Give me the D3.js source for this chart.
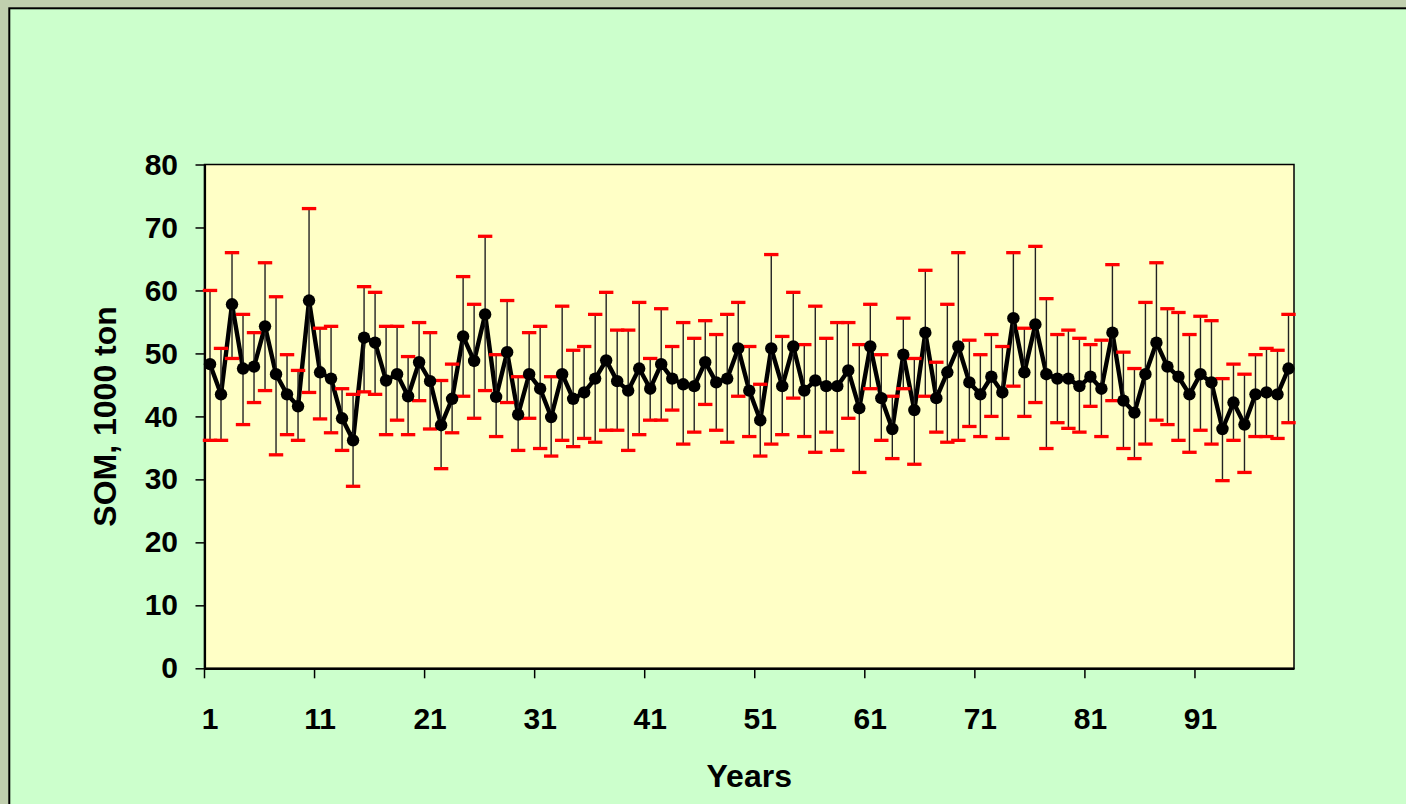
<!DOCTYPE html>
<html>
<head>
<meta charset="utf-8">
<script src="https://d3js.org/d3.v7.min.js"></script>
<style>
  html, body { margin: 0; padding: 0; background: #c0cfae; }
  svg { display: block; }
  text { font-family: "Liberation Sans", Arial, sans-serif; font-weight: bold; }
</style>
</head>
<body>
<div id="chart"></div>
<script>
// SOM per year: mean and error bar limits
var years = d3.range(1, 100);
var tickYears = [1, 11, 21, 31, 41, 51, 61, 71, 81, 91];
var yTicks = [0, 10, 20, 30, 40, 50, 60, 70, 80];

var som = [
  48.3, 43.5, 57.8, 47.6, 47.9, 54.3, 46.7, 43.5, 41.6, 58.4,
  47.0, 46.0, 39.7, 36.2, 52.5, 51.7, 45.7, 46.7, 43.2, 48.6,
  45.6, 38.6, 42.8, 52.7, 48.8, 56.2, 43.1, 50.2, 40.3, 46.7,
  44.4, 39.9, 46.7, 42.8, 43.8, 46.0, 48.9, 45.6, 44.1, 47.6,
  44.4, 48.3, 46.0, 45.1, 44.8, 48.6, 45.4, 46.0, 50.8, 44.1,
  39.4, 50.8, 44.8, 51.1, 44.1, 45.7, 44.8, 44.8, 47.3, 41.3,
  51.1, 42.9, 38.0, 49.8, 41.0, 53.3, 42.9, 47.0, 51.1, 45.4,
  43.5, 46.3, 43.8, 55.6, 47.0, 54.6, 46.7, 46.0, 46.0, 44.8,
  46.3, 44.4, 53.3, 42.5, 40.6, 46.7, 51.7, 47.9, 46.3, 43.5,
  46.7, 45.4, 38.0, 42.2, 38.7, 43.5, 43.8, 43.5, 47.6
];

var upper = [
  60.0, 50.8, 66.0, 56.2, 53.3, 64.4, 59.0, 49.8, 47.3, 73.0,
  54.0, 54.3, 44.4, 43.5, 60.6, 59.7, 54.3, 54.3, 49.5, 54.9,
  53.3, 45.7, 48.3, 62.2, 57.8, 68.6, 49.8, 58.4, 46.3, 53.3,
  54.3, 46.3, 57.5, 50.5, 51.1, 56.2, 59.7, 53.7, 53.7, 58.1,
  49.2, 57.1, 51.1, 54.9, 52.4, 55.2, 53.0, 56.2, 58.1, 51.1,
  45.1, 65.7, 52.7, 59.7, 51.4, 57.5, 52.4, 54.9, 54.9, 51.4,
  57.8, 49.8, 43.2, 55.6, 49.2, 63.2, 48.6, 57.8, 66.0, 52.1,
  49.8, 53.0, 51.1, 66.0, 54.0, 67.0, 58.7, 53.0, 53.7, 52.4,
  51.4, 52.1, 64.1, 50.2, 47.6, 58.1, 64.4, 57.1, 56.5, 53.0,
  55.9, 55.2, 46.0, 48.3, 46.7, 49.8, 50.8, 50.5, 56.2
];

var lower = [
  36.2, 36.2, 49.2, 38.7, 42.2, 44.1, 33.9, 37.1, 36.2, 43.8,
  39.6, 37.4, 34.6, 28.9, 43.9, 43.5, 37.1, 39.4, 37.1, 42.5,
  38.0, 31.7, 37.4, 43.2, 39.7, 44.1, 36.8, 42.2, 34.6, 39.7,
  34.9, 33.7, 36.2, 35.2, 36.5, 35.9, 37.8, 37.8, 34.6, 37.1,
  39.4, 39.4, 41.0, 35.6, 37.5, 41.9, 37.8, 35.9, 43.2, 36.8,
  33.7, 35.6, 37.1, 42.9, 36.8, 34.3, 37.5, 34.6, 39.7, 31.1,
  44.4, 36.2, 33.3, 44.4, 32.4, 43.2, 37.5, 35.9, 36.2, 38.4,
  36.8, 40.0, 36.5, 44.8, 40.0, 42.2, 34.9, 39.0, 38.1, 37.5,
  41.6, 36.8, 42.5, 34.9, 33.3, 35.6, 39.4, 38.7, 36.2, 34.3,
  37.8, 35.6, 29.8, 36.2, 31.1, 36.8, 36.8, 36.5, 39.0
];

var W = 1406, H = 804;
var plot = {left: 204.5, top: 164.5, right: 1294, bottom: 668.3};

var svg = d3.select("#chart").append("svg")
    .attr("width", W).attr("height", H);

// green panel with black frame
svg.append("rect")
    .attr("x", 9.3).attr("y", 8.3)
    .attr("width", W + 20).attr("height", H + 20)
    .attr("fill", "#ccffcc")
    .attr("stroke", "#000").attr("stroke-width", 2);

// plot area
svg.append("rect")
    .attr("x", plot.left).attr("y", plot.top)
    .attr("width", plot.right - plot.left)
    .attr("height", plot.bottom - plot.top)
    .attr("fill", "#ffffc6")
    .attr("stroke", "#000").attr("stroke-width", 1.5);

var x = d3.scaleBand().domain(years).range([plot.left, plot.right]).padding(0);
var y = d3.scaleLinear().domain([0, 80]).range([plot.bottom, plot.top]);
var bw = x.bandwidth();
function cx(d) { return x(d) + bw / 2; }

// Y axis
var yAxis = svg.append("g")
    .attr("transform", "translate(" + plot.left + ",0)")
    .call(d3.axisLeft(y).tickValues(yTicks).tickSize(9).tickSizeOuter(0).tickPadding(17.5));
yAxis.select(".domain").attr("stroke-width", 2.2);
yAxis.selectAll(".tick line").attr("stroke-width", 1.5);
yAxis.selectAll("text").attr("font-size", 30).attr("fill", "#000")
    .style("font-family", "'Liberation Sans', Arial, sans-serif");

// X axis: ticks on category boundaries, labels in centre
var xAxis = svg.append("g")
    .attr("transform", "translate(0," + plot.bottom + ")")
    .call(d3.axisBottom(x).tickValues(tickYears).tickSize(10).tickSizeOuter(0).tickPadding(29));
xAxis.select(".domain").attr("stroke-width", 2.2);
xAxis.selectAll(".tick line")
    .attr("x1", -bw / 2).attr("x2", -bw / 2).attr("stroke-width", 1.5);
xAxis.selectAll("text").attr("font-size", 30).attr("fill", "#000")
    .style("font-family", "'Liberation Sans', Arial, sans-serif");

// axis titles
svg.append("text")
    .attr("x", (plot.left + plot.right) / 2).attr("y", 787)
    .attr("text-anchor", "middle").attr("font-size", 32)
    .text("Years");
svg.append("text")
    .attr("transform", "translate(116," + ((plot.top + plot.bottom) / 2) + ") rotate(-90)")
    .attr("text-anchor", "middle").attr("font-size", 32)
    .text("SOM, 1000 ton");

// line
var valueline = d3.line()
    .x(function(d, i) { return cx(years[i]); })
    .y(function(d) { return y(d); });
svg.append("path").datum(som)
    .attr("d", valueline)
    .attr("fill", "none").attr("stroke", "#000")
    .attr("stroke-width", 4.4).attr("stroke-linejoin", "round");

// error bars
var eb = svg.append("g");
eb.selectAll("line.bar").data(years).enter().append("line")
    .attr("class", "bar")
    .attr("x1", cx).attr("x2", cx)
    .attr("y1", function(d, i) { return y(upper[i]); })
    .attr("y2", function(d, i) { return y(lower[i]); })
    .attr("stroke", "#222").attr("stroke-width", 1.4);
[upper, lower].forEach(function(lim) {
  eb.selectAll(null).data(years).enter().append("line")
      .attr("x1", function(d) { return cx(d) - 7.2; })
      .attr("x2", function(d) { return cx(d) + 7.2; })
      .attr("y1", function(d, i) { return y(lim[i]); })
      .attr("y2", function(d, i) { return y(lim[i]); })
      .attr("stroke", "#ff0000").attr("stroke-width", 3.3);
});

// markers
svg.append("g").selectAll("circle").data(som).enter().append("circle")
    .attr("cx", function(d, i) { return cx(years[i]); })
    .attr("cy", function(d) { return y(d); })
    .attr("r", 6.2).attr("fill", "#000");
</script>
</body>
</html>
